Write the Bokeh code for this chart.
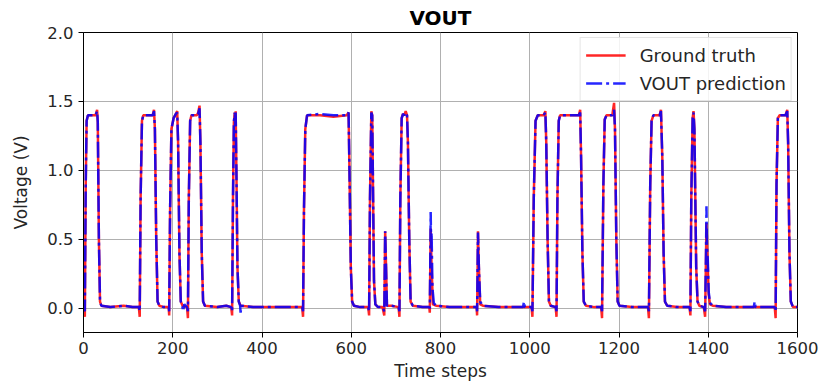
from bokeh.plotting import figure
from bokeh.models import FixedTicker, NumeralTickFormatter, Range1d, Legend, LegendItem
from bokeh.embed import file_html
from bokeh.resources import INLINE

# ---------------- data ----------------
t_true = [0, 3, 5, 7, 10, 27, 30.5, 32, 34.5, 37, 40, 60, 90, 110, 124,
          126, 128, 131, 134, 155, 158, 160, 163, 166, 170, 180, 191,
          192, 194, 197, 202, 207, 210, 212, 215, 218, 222, 232,
          234, 236, 239, 242, 254, 257, 260, 262, 265, 268, 272, 300, 320, 331,
          333, 335, 337, 339, 340, 341, 343, 345, 348, 352, 380, 420, 460, 490,
          492, 494, 497, 501, 530, 560, 590, 594, 596, 599, 602, 606, 620, 638,
          640, 642, 645, 647, 649, 651, 654, 660, 670,
          674, 676, 678, 680, 690, 706,
          708, 710, 713, 716, 719, 722, 725, 727, 730, 733, 738, 760, 775,
          776, 778, 780, 783, 790, 820, 850, 881,
          882, 884, 886, 889, 895, 930, 970, 1004,
          1006, 1009, 1013, 1018, 1031, 1035, 1037, 1040, 1043, 1047, 1058,
          1060, 1062, 1065, 1068, 1110, 1113, 1115, 1118, 1121, 1126, 1145, 1160,
          1162, 1165, 1168, 1172, 1185, 1189, 1191, 1194, 1197, 1201, 1230, 1265,
          1267, 1270, 1273, 1277, 1291, 1294, 1297, 1300, 1303, 1308, 1330, 1358,
          1360, 1362, 1365, 1367, 1369, 1371, 1373, 1376, 1380, 1390,
          1393, 1396, 1398, 1401, 1404, 1410, 1440, 1480, 1502, 1520, 1549,
          1551, 1553, 1556, 1560, 1573, 1577, 1579, 1582, 1585, 1590, 1600]
v_true = [0.01, -0.06, 0.9, 1.36, 1.40, 1.40, 1.44, 1.35, 0.5, 0.05, 0.02, 0.01, 0.02, 0.01, 0.01,
          -0.06, 0.8, 1.36, 1.40, 1.40, 1.44, 1.30, 0.5, 0.05, 0.02, 0.01, 0.01,
          -0.05, 0.7, 1.30, 1.38, 1.41, 1.43, 1.20, 0.4, 0.05, 0.02, 0.01,
          -0.07, 0.8, 1.36, 1.40, 1.40, 1.42, 1.47, 1.20, 0.4, 0.05, 0.02, 0.01, 0.02, 0.01,
          -0.05, 0.8, 1.35, 1.42, 1.30, 1.43, 0.9, 0.3, 0.05, 0.02, 0.01, 0.01, 0.01, 0.01,
          -0.06, 0.7, 1.30, 1.40, 1.40, 1.39, 1.40, 1.42, 1.0, 0.3, 0.05, 0.02, 0.01, 0.01,
          -0.05, 0.8, 1.43, 1.40, 0.8, 0.2, 0.03, 0.01, 0.01,
          -0.05, 0.56, 0.3, 0.02, 0.02, 0.01,
          -0.06, 0.8, 1.38, 1.41, 1.40, 1.43, 1.40, 1.20, 0.5, 0.05, 0.02, 0.01, 0.01,
          -0.03, 0.58, 0.3, 0.03, 0.02, 0.01, 0.01, 0.01,
          -0.05, 0.56, 0.3, 0.03, 0.02, 0.01, 0.01, 0.01,
          -0.06, 0.8, 1.36, 1.40, 1.40, 1.43, 1.20, 0.5, 0.05, 0.02, 0.01,
          -0.06, 0.8, 1.36, 1.40, 1.40, 1.44, 1.10, 0.4, 0.05, 0.02, 0.01, 0.01,
          -0.07, 0.9, 1.37, 1.40, 1.40, 1.49, 1.30, 0.5, 0.05, 0.02, 0.01, 0.01,
          -0.07, 0.9, 1.36, 1.40, 1.40, 1.44, 1.10, 0.4, 0.05, 0.02, 0.01, 0.01,
          -0.05, 0.8, 1.38, 1.43, 1.30, 0.8, 0.3, 0.05, 0.02, 0.01,
          -0.06, 0.62, 0.4, 0.1, 0.03, 0.02, 0.01, 0.01, 0.01, 0.01, 0.01,
          -0.07, 0.9, 1.38, 1.40, 1.40, 1.44, 1.20, 0.4, 0.05, 0.01, 0.01]

t_pred = [0, 3, 5, 7, 10, 27, 30.5, 32, 34.5, 37, 40, 60, 90, 110, 124,
          126, 128, 131, 134, 155, 158, 160, 163, 166, 170, 180, 191,
          192, 194, 197, 202, 207, 210, 212, 215, 218, 221, 223, 226, 232,
          234, 236, 239, 242, 254, 257, 260, 262, 265, 268, 272, 300, 320, 331,
          333, 335, 337, 339, 340, 341, 343, 345, 348, 351, 352, 354, 380, 420, 460, 490,
          492, 494, 497, 501, 530, 560, 590, 594, 596, 599, 602, 606, 620, 638,
          640, 642, 645, 647, 649, 651, 654, 660, 670,
          674, 676, 678, 680, 690, 706,
          708, 710, 713, 716, 719, 722, 725, 727, 730, 733, 738, 760, 775,
          776, 777, 778, 779, 780, 782, 785, 790, 820, 850, 881,
          882, 884, 886, 889, 895, 930, 970, 985,
          987, 989, 1004,
          1006, 1009, 1013, 1018, 1031, 1035, 1037, 1040, 1043, 1047, 1058,
          1060, 1062, 1065, 1068, 1110, 1113, 1115, 1118, 1121, 1126, 1145, 1160,
          1162, 1165, 1168, 1172, 1185, 1189, 1191, 1194, 1197, 1201, 1230, 1265,
          1267, 1270, 1273, 1277, 1291, 1294, 1297, 1300, 1303, 1308, 1330, 1358,
          1360, 1362, 1365, 1367, 1369, 1371, 1373, 1376, 1380, 1390,
          1393, 1395, 1396, 1397, 1399, 1401, 1404, 1410, 1440, 1480, 1502,
          1504, 1506, 1520, 1549,
          1551, 1553, 1556, 1560, 1573, 1577, 1579, 1582, 1585, 1590, 1600]
v_pred = [0.01, -0.02, 0.9, 1.36, 1.40, 1.40, 1.43, 1.35, 0.5, 0.05, 0.02, 0.01, 0.02, 0.01, 0.01,
          -0.02, 0.8, 1.36, 1.40, 1.40, 1.43, 1.30, 0.5, 0.05, 0.02, 0.01, 0.01,
          -0.02, 0.7, 1.30, 1.38, 1.41, 1.42, 1.20, 0.4, 0.05, 0.03, -0.02, 0.03, 0.01,
          -0.02, 0.8, 1.36, 1.40, 1.40, 1.41, 1.45, 1.20, 0.4, 0.05, 0.02, 0.01, 0.02, 0.01,
          -0.02, 0.8, 1.35, 1.42, 1.32, 1.42, 0.9, 0.3, 0.05, 0.02, -0.03, 0.02, 0.01, 0.01, 0.01, 0.01,
          -0.02, 0.7, 1.30, 1.40, 1.41, 1.40, 1.40, 1.42, 1.0, 0.3, 0.05, 0.02, 0.01, 0.01,
          -0.02, 0.8, 1.42, 1.40, 0.8, 0.2, 0.03, 0.01, 0.01,
          -0.02, 0.56, 0.3, 0.02, 0.02, 0.01,
          -0.02, 0.8, 1.38, 1.41, 1.40, 1.42, 1.40, 1.20, 0.5, 0.05, 0.02, 0.01, 0.01,
          0.0, 0.30, 0.70, 0.45, 0.55, 0.15, 0.04, 0.02, 0.01, 0.01, 0.01,
          -0.02, 0.55, 0.3, 0.05, 0.02, 0.01, 0.01, 0.01,
          0.05, 0.01, 0.01,
          -0.02, 0.8, 1.36, 1.40, 1.40, 1.42, 1.20, 0.5, 0.05, 0.02, 0.01,
          -0.02, 0.8, 1.36, 1.40, 1.40, 1.42, 1.10, 0.4, 0.05, 0.02, 0.01, 0.01,
          -0.02, 0.9, 1.37, 1.40, 1.40, 1.44, 1.30, 0.5, 0.05, 0.02, 0.01, 0.01,
          -0.02, 0.9, 1.36, 1.40, 1.40, 1.43, 1.10, 0.4, 0.05, 0.02, 0.01, 0.01,
          -0.02, 0.8, 1.38, 1.42, 1.30, 0.8, 0.3, 0.05, 0.02, 0.01,
          -0.02, 0.40, 0.74, 0.45, 0.35, 0.12, 0.04, 0.02, 0.01, 0.01, 0.01,
          0.05, 0.01, 0.01, 0.01,
          -0.02, 0.9, 1.38, 1.40, 1.40, 1.43, 1.20, 0.4, 0.05, 0.01, 0.01]

x_ticks = [0, 200, 400, 600, 800, 1000, 1200, 1400, 1600]
y_ticks = [0.0, 0.5, 1.0, 1.5, 2.0]

FONT = "DejaVu Sans"
TXT = "#262626"

p = figure(frame_width=714, frame_height=300, width=819, height=392,
           output_backend="svg", toolbar_location=None,
           x_range=Range1d(0, 1600), y_range=Range1d(-0.174, 2.0),
           min_border_left=83, min_border_right=22, min_border_top=31, min_border_bottom=61,
           title="VOUT")

p.title.align = "center"
p.title.text_font = FONT
p.title.text_font_size = "20px"
p.title.text_font_style = "bold"
p.title.text_color = "black"
p.title.standoff = 6

p.outline_line_color = "black"
p.outline_line_width = 1
p.outline_line_alpha = 1

for ax in (p.xaxis[0], p.yaxis[0]):
    ax.axis_line_color = "black"
    ax.major_tick_line_color = "black"
    ax.major_tick_out = 5
    ax.major_tick_in = 0
    ax.minor_tick_line_color = None
    ax.major_label_text_font = FONT
    ax.major_label_text_font_size = "16.5px"
    ax.major_label_text_color = TXT
    ax.axis_label_text_font = FONT
    ax.axis_label_text_font_size = "17px"
    ax.axis_label_text_font_style = "normal"
    ax.axis_label_text_color = TXT

p.xaxis.ticker = FixedTicker(ticks=x_ticks)
p.yaxis.ticker = FixedTicker(ticks=y_ticks)
p.yaxis.formatter = NumeralTickFormatter(format="0.0")
p.xaxis.axis_label = "Time steps"
p.yaxis.axis_label = "Voltage (V)"
p.xaxis.major_label_standoff = 4
p.yaxis.major_label_standoff = 5
p.xaxis.axis_label_standoff = 4
p.yaxis.axis_label_standoff = 13

p.grid.grid_line_color = "#b0b0b0"
p.grid.grid_line_width = 1

r_true = p.line(t_true, v_true, line_color="#ff0000", line_width=2.5, line_alpha=0.85)
r_pred = p.line(t_pred, v_pred, line_color="#0000ff", line_width=2.5, line_alpha=0.85,
                line_dash="16 4 3 4")

legend = Legend(items=[LegendItem(label="Ground truth", renderers=[r_true]),
                       LegendItem(label="VOUT prediction", renderers=[r_pred])],
                location="top_right")
legend.label_text_font = FONT
legend.label_text_font_size = "18px"
legend.label_text_color = TXT
legend.border_line_color = "#cccccc"
legend.border_line_width = 1
legend.background_fill_alpha = 0.85
legend.glyph_width = 40
legend.label_standoff = 14
legend.padding = 5
legend.spacing = 4
legend.margin = 5
legend.label_height = 24
legend.glyph_height = 24
p.add_layout(legend)

open("out.html", "w").write(file_html(p, INLINE))
